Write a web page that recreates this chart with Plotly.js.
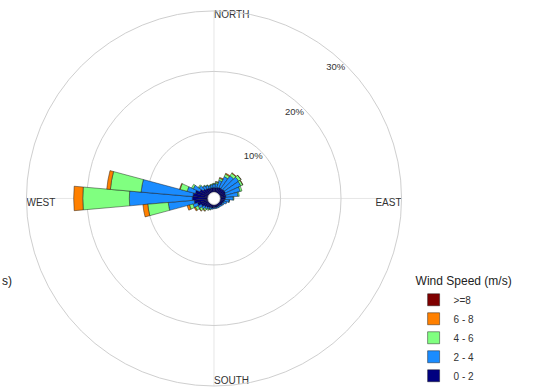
<!DOCTYPE html>
<html>
<head>
<meta charset="utf-8">
<script src="https://cdn.plot.ly/plotly-3.0.1.min.js"></script>
<style>
  html, body { margin: 0; padding: 0; background: #ffffff; }
  #rose { width: 533px; height: 391px; }
</style>
</head>
<body>
<div id="rose"></div>
<script>
// Wind direction bins (degrees, 10° sectors)
const directions = [10, 20, 30, 40, 50, 60, 70, 80, 90, 100, 110, 120,
                    130, 140, 150, 160, 170, 180, 190, 200, 210, 220, 230, 240,
                    250, 260, 270, 280, 290, 300, 310, 320, 330, 340, 350, 360];

// Frequency (%) per direction for each wind-speed class
const speed0to2 = [0.8, 0.9, 1.0, 1.0, 1.1, 1.1, 1.0, 1.0, 0.9, 0.8, 0.7, 0.6,
                   0.6, 0.5, 0.5, 0.5, 0.5, 0.5, 0.6, 0.6, 0.7, 0.8, 1.0, 1.3,
                   1.8, 2.3, 2.6, 2.5, 2.2, 1.6, 1.2, 1.0, 0.9, 0.8, 0.8, 0.8];
const speed2to4 = [0.7, 1.2, 2.0, 2.6, 2.9, 2.8, 2.5, 2.0, 1.3, 0.75, 0.5, 0.3,
                   0.2, 0.2, 0.2, 0.2, 0.2, 0.2, 0.2, 0.3, 0.3, 0.4, 0.5, 0.6,
                   0.8, 4.3, 10.4, 8.6, 1.4, 1.2, 0.8, 0.6, 0.5, 0.4, 0.5, 0.6];
const speed4to6 = [0.25, 0.35, 0.45, 0.5, 0.45, 0.35, 0.3, 0.2, 0.1, 0.05, 0, 0,
                   0, 0, 0, 0, 0, 0, 0, 0.1, 0.2, 0.3, 0.4, 0.5,
                   0.6, 3.4, 7.7, 5.1, 1.2, 0.3, 0.2, 0.1, 0.1, 0.1, 0.1, 0.1];
const speed6to8 = [0.05, 0.15, 0.15, 0.1, 0.05, 0.05, 0, 0, 0, 0, 0, 0,
                   0, 0, 0, 0, 0, 0, 0, 0, 0, 0.1, 0.1, 0.2,
                   0.4, 0.8, 1.5, 0.6, 0.1, 0, 0, 0, 0, 0, 0, 0];
const speed8up  = [0, 0, 0, 0, 0, 0, 0, 0, 0, 0, 0, 0,
                   0, 0, 0, 0, 0, 0, 0, 0, 0, 0, 0, 0,
                   0, 0, 0, 0, 0, 0, 0, 0, 0, 0, 0, 0];

const speedLabels = ['0 - 2', '2 - 4', '4 - 6', '6 - 8', '>=8'];
const speedColors = ['#000080', '#1a8cff', '#80ff80', '#ff8000', '#7f0000'];
const speedSeries = [speed0to2, speed2to4, speed4to6, speed6to8, speed8up];

// Radial grid values and compass labels
const radialTicks = [10, 20, 30];
const compassAngles = [0, 90, 180, 270];
const compassNames = ['NORTH', 'EAST', 'SOUTH', 'WEST'];

const traces = speedSeries.map((vals, i) => ({
  type: 'barpolar',
  r: vals,
  theta: directions,
  width: directions.map(() => 10),
  name: speedLabels[i],
  marker: { color: speedColors[i], line: { color: 'rgba(20,20,20,0.75)', width: 0.6 } },
  hoverinfo: 'skip'
}));

// Percentage labels just inside each ring
traces.push({
  type: 'scatterpolar',
  mode: 'text',
  r: radialTicks.map(v => v - 1.5),
  theta: radialTicks.map(() => 43),
  text: radialTicks.map(v => v + '%'),
  textposition: 'middle center',
  textfont: { family: 'Liberation Sans, Arial, sans-serif', size: 9.5, color: '#333' },
  showlegend: false,
  hoverinfo: 'skip',
  cliponaxis: false
});

// Compass point names at the outer ring
traces.push({
  type: 'scatterpolar',
  mode: 'text',
  r: compassAngles.map(() => 30),
  theta: compassAngles,
  text: compassNames,
  textposition: ['bottom right', 'bottom left', 'top right', 'bottom right'],
  textfont: { family: 'Liberation Sans, Arial, sans-serif', size: 10, color: '#333' },
  showlegend: false,
  hoverinfo: 'skip',
  cliponaxis: false
});

const layout = {
  width: 533,
  height: 391,
  margin: { l: 0, r: 0, t: 0, b: 0 },
  paper_bgcolor: '#ffffff',
  font: { family: 'Liberation Sans, Arial, sans-serif', color: '#222' },
  showlegend: true,
  polar: {
    domain: { x: [0.0469, 0.7561], y: [0.0051, 0.9719] },
    bgcolor: '#ffffff',
    hole: 0.032,
    barmode: 'stack',
    radialaxis: {
      range: [0, 30],
      tickmode: 'array',
      tickvals: radialTicks,
      showticklabels: false,
      ticks: '',
      showline: false,
      gridcolor: '#cfcfcf',
      gridwidth: 1
    },
    angularaxis: {
      direction: 'clockwise',
      rotation: 90,
      tickmode: 'array',
      tickvals: compassAngles,
      showticklabels: false,
      ticks: '',
      showgrid: true,
      gridcolor: '#e6e6e6',
      showline: true,
      linecolor: '#cfcfcf',
      linewidth: 1
    }
  },
  legend: {
    x: 0.776,
    xanchor: 'left',
    y: 0.305,
    yanchor: 'top',
    traceorder: 'reversed',
    bgcolor: 'rgba(0,0,0,0)',
    font: { size: 10, color: '#333' },
    title: { text: 'Wind Speed (m/s)', font: { size: 12, color: '#222' } }
  },
  annotations: [{
    xref: 'paper', yref: 'paper',
    x: 0, y: 1 - 283 / 391,
    xanchor: 'left', yanchor: 'middle',
    text: 's)',
    showarrow: false,
    font: { size: 12, color: '#222' }
  }]
};

Plotly.newPlot('rose', traces, layout, { staticPlot: true, displayModeBar: false });
</script>
</body>
</html>
